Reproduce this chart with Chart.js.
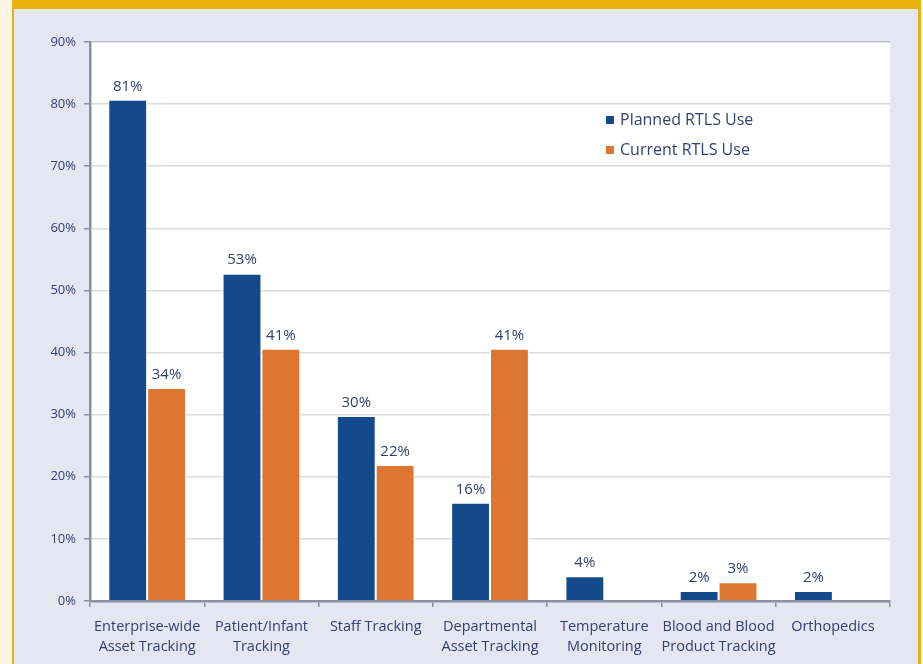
<!DOCTYPE html>
<html>
<head>
<meta charset="utf-8">
<script src="https://cdn.jsdelivr.net/npm/chart.js@4/dist/chart.umd.min.js"></script>
<style>
  html, body { margin: 0; padding: 0; background: #fbf4e4; }
  #wrap { width: 923px; height: 664px; position: relative; }
</style>
</head>
<body>
<div id="wrap"><canvas id="rtlsChart" width="923" height="664"></canvas></div>
<script>
var categories = [
    ["Enterprise-wide", "Asset Tracking"],
    ["Patient/Infant", "Tracking"],
    "Staff Tracking",
    ["Departmental", "Asset Tracking"],
    ["Temperature", "Monitoring"],
    ["Blood and Blood", "Product Tracking"],
    "Orthopedics"
];
var plannedUse = [80.7, 52.7, 29.8, 15.8, 4.0, 1.6, 1.6];
var currentUse = [34.3, 40.6, 21.9, 40.6, null, 3.0, null];
var yTicks = [0, 10, 20, 30, 40, 50, 60, 70, 80, 90];

var textColor = "#34406e";
var fontFamily = "'Open Sans', 'Noto Sans', sans-serif";

// page frame + white plot area
var framePlugin = {
    id: "frame",
    beforeDraw: function (chart) {
        var ctx = chart.ctx;
        var a = chart.chartArea;
        ctx.save();
        ctx.fillStyle = "#fbf4e4";
        ctx.fillRect(0, 0, 923, 664);
        ctx.fillStyle = "#e8b30f";
        ctx.fillRect(12, 0, 909, 664);
        ctx.fillStyle = "#e4e7f1";
        ctx.fillRect(14, 9, 904, 655);
        ctx.fillStyle = "#ffffff";
        ctx.fillRect(a.left, a.top, a.right - a.left, a.bottom - a.top);
        ctx.restore();
    }
};

// value labels above bars
var valueLabels = {
    id: "valueLabels",
    afterDatasetsDraw: function (chart) {
        var ctx = chart.ctx;
        ctx.save();
        ctx.font = "15px " + fontFamily;
        ctx.fillStyle = textColor;
        ctx.textAlign = "center";
        ctx.textBaseline = "bottom";
        chart.data.datasets.forEach(function (ds, i) {
            chart.getDatasetMeta(i).data.forEach(function (bar, j) {
                var v = ds.data[j];
                if (v === null || v === undefined) return;
                ctx.fillText(Math.round(v) + "%", bar.x, bar.y - 6);
            });
        });
        ctx.restore();
    }
};

// legend inside the plot, top right
var insideLegend = {
    id: "insideLegend",
    afterDraw: function (chart) {
        var ctx = chart.ctx;
        ctx.save();
        ctx.font = "16px " + fontFamily;
        ctx.textBaseline = "middle";
        chart.data.datasets.forEach(function (ds, i) {
            var y = 120 + i * 30;
            ctx.fillStyle = ds.backgroundColor;
            ctx.fillRect(606, y - 4, 8, 8);
            ctx.fillStyle = textColor;
            ctx.fillText(ds.label, 620, y);
        });
        ctx.restore();
    }
};

var canvas = document.getElementById("rtlsChart");
var rtlsChart = new Chart(canvas, {
    type: "bar",
    data: {
        labels: categories,
        datasets: [{
            label: "Planned RTLS Use",
            data: plannedUse,
            backgroundColor: "#124a8c",
            borderColor: "#ffffff",
            borderWidth: 1,
            categoryPercentage: 0.68,
            barPercentage: 1.0
        }, {
            label: "Current RTLS Use",
            data: currentUse,
            backgroundColor: "#dd7631",
            borderColor: "#ffffff",
            borderWidth: 1,
            categoryPercentage: 0.68,
            barPercentage: 1.0
        }]
    },
    options: {
        responsive: false,
        animation: false,
        layout: {
            padding: { top: 42, right: 33, left: 0, bottom: 0 }
        },
        plugins: {
            legend: { display: false },
            tooltip: { enabled: false }
        },
        scales: {
            x: {
                afterFit: function (scale) { scale.height = 63; },
                grid: {
                    offset: true,
                    drawOnChartArea: false,
                    drawTicks: true,
                    tickLength: 6,
                    color: "#8b8fa2",
                    lineWidth: 1.5
                },
                border: { color: "#8b8fa2", width: 2.5 },
                ticks: {
                    color: textColor,
                    font: { family: fontFamily, size: 14.5, lineHeight: 1.38 },
                    padding: 10,
                    maxRotation: 0,
                    autoSkip: false
                }
            },
            y: {
                min: 0,
                max: 90,
                afterFit: function (scale) { scale.width = 90; },
                afterBuildTicks: function (scale) {
                    scale.ticks = yTicks.map(function (v) { return { value: v }; });
                },
                grid: {
                    color: function (c) {
                        return c.tick && c.tick.value === 90 ? "#c3c3cb" : "#dcdce0";
                    },
                    lineWidth: 1.5,
                    tickColor: "#8b8fa2",
                    tickLength: 6
                },
                border: { color: "#8b8fa2", width: 2.5 },
                ticks: {
                    color: textColor,
                    font: { family: fontFamily, size: 13 },
                    padding: 8,
                    callback: function (v) { return v + "%"; }
                }
            }
        }
    },
    plugins: [framePlugin, valueLabels, insideLegend]
});
</script>
</body>
</html>
